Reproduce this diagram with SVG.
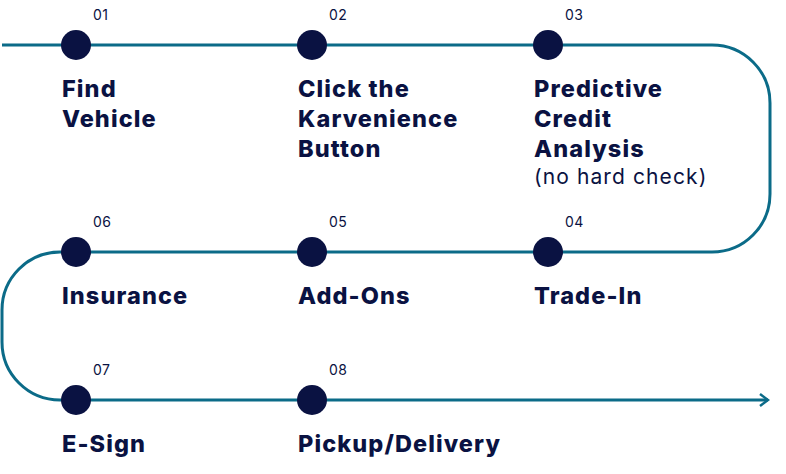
<svg xmlns="http://www.w3.org/2000/svg" width="786" height="474" viewBox="0 0 786 474">
<style>
.ln{fill:none;stroke:#0b6b88;stroke-width:3}
.dot{fill:#0a1242}
.num{font-family:Inter,"Open Sans",sans-serif;font-size:14px;fill:#0a1242;letter-spacing:0.5px}
.lbl{font-family:Inter,"Open Sans",sans-serif;font-size:23.5px;font-weight:800;fill:#0a1242;letter-spacing:1.1px}
.sub{font-family:Inter,"Open Sans",sans-serif;font-size:21px;fill:#0a1242;letter-spacing:1.1px}
</style>
<defs><marker id="ah" markerWidth="12" markerHeight="14" refX="10" refY="7" orient="auto" markerUnits="userSpaceOnUse"><path d="M2,1 L10,7 L2,13" fill="none" stroke="#0b6b88" stroke-width="2.5"/></marker></defs>
<g id="connectors">
<path class="ln" d="M2,45 H712 A58,58 0 0 1 770,103 V194 A58,58 0 0 1 712,252 H60 A58,58 0 0 0 2,310 V342 A58,58 0 0 0 60,400 H768" marker-end="url(#ah)"/>
</g>
<g id="n01"><circle class="dot" cx="76" cy="45" r="15"/><text class="num" x="93" y="20">01</text><text class="lbl" x="62" y="97">Find</text><text class="lbl" x="62" y="127">Vehicle</text></g>
<g id="n02"><circle class="dot" cx="312" cy="45" r="15"/><text class="num" x="329" y="20">02</text><text class="lbl" x="298" y="97">Click the</text><text class="lbl" x="298" y="127">Karvenience</text><text class="lbl" x="298" y="157">Button</text></g>
<g id="n03"><circle class="dot" cx="548" cy="45" r="15"/><text class="num" x="565" y="20">03</text><text class="lbl" x="534" y="97">Predictive</text><text class="lbl" x="534" y="127">Credit</text><text class="lbl" x="534" y="157">Analysis</text><text class="sub" x="534" y="184">(no hard check)</text></g>
<g id="n04"><circle class="dot" cx="548" cy="252" r="15"/><text class="num" x="565" y="227">04</text><text class="lbl" x="534" y="304">Trade-In</text></g>
<g id="n05"><circle class="dot" cx="312" cy="252" r="15"/><text class="num" x="329" y="227">05</text><text class="lbl" x="298" y="304">Add-Ons</text></g>
<g id="n06"><circle class="dot" cx="76" cy="252" r="15"/><text class="num" x="93" y="227">06</text><text class="lbl" x="62" y="304">Insurance</text></g>
<g id="n07"><circle class="dot" cx="76" cy="400" r="15"/><text class="num" x="93" y="375">07</text><text class="lbl" x="62" y="452">E-Sign</text></g>
<g id="n08"><circle class="dot" cx="312" cy="400" r="15"/><text class="num" x="329" y="375">08</text><text class="lbl" x="298" y="452">Pickup/Delivery</text></g>
</svg>
